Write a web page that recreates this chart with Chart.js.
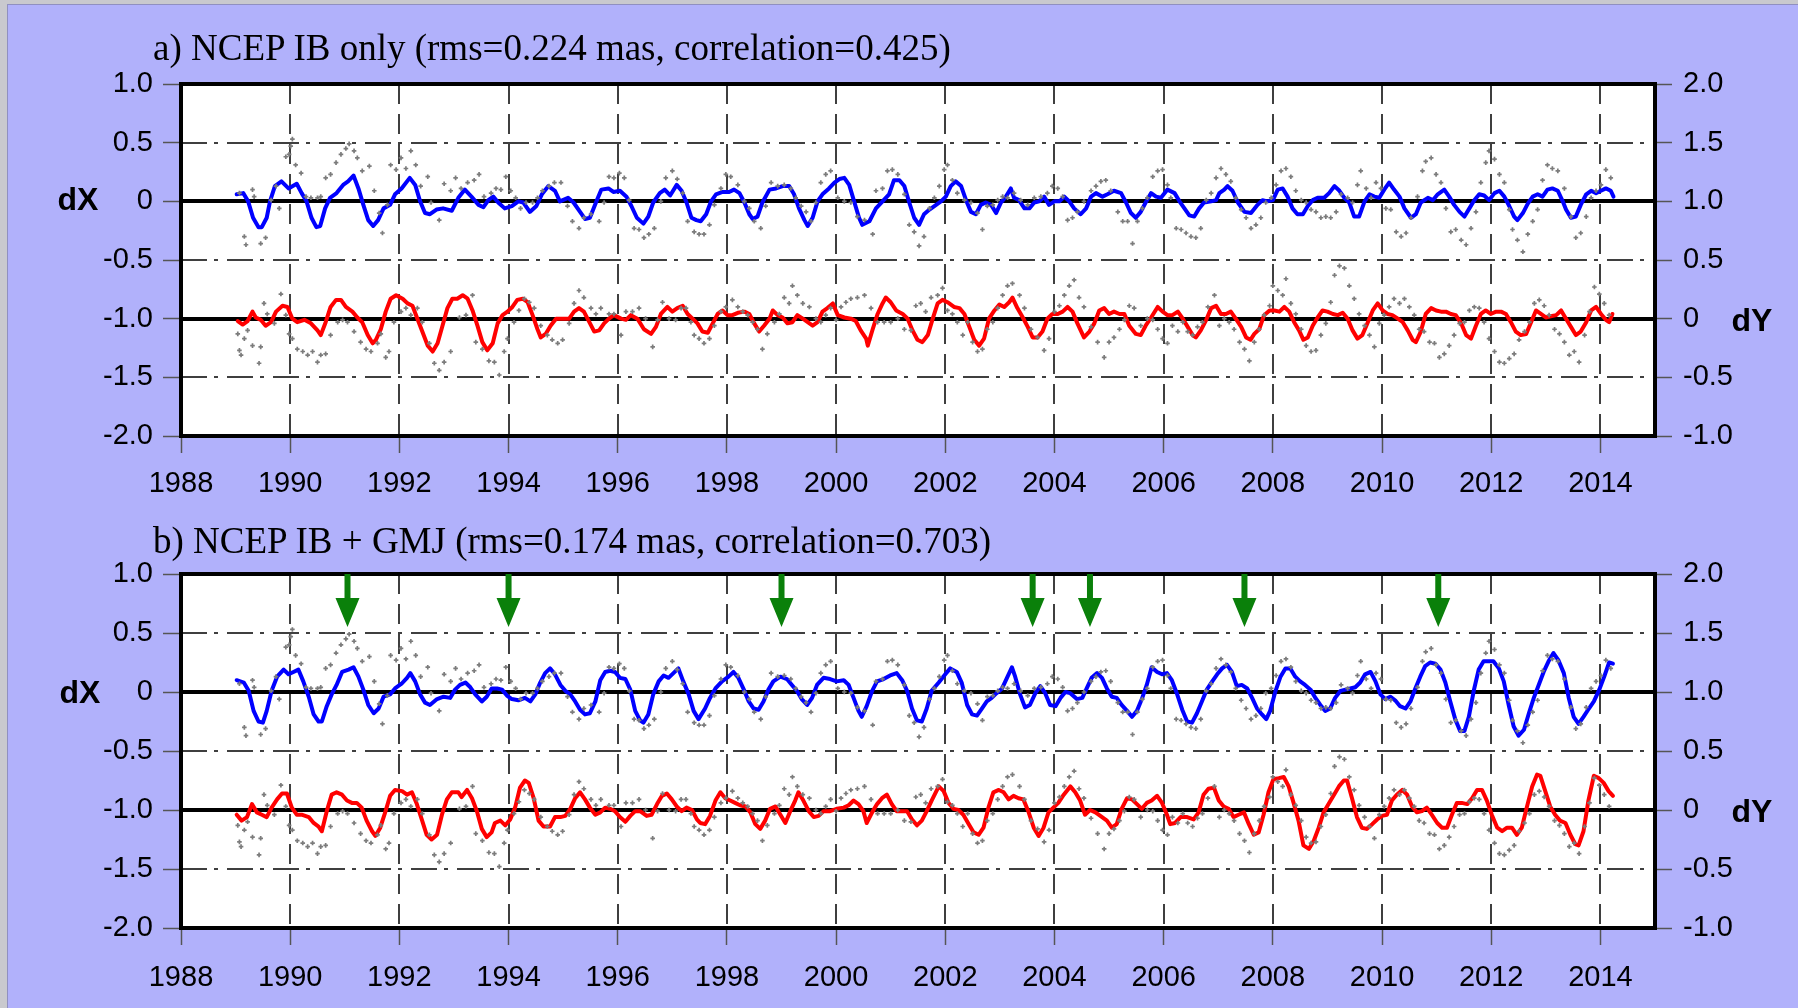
<!DOCTYPE html>
<html>
<head>
<meta charset="utf-8">
<title>NCEP IB dX / dY</title>
<script src="https://cdn.jsdelivr.net/npm/chart.js@4.4.1/dist/chart.umd.min.js"></script>
<style>
  html, body { margin: 0; padding: 0; }
  body { width: 1798px; height: 1008px; background: #c9c9ce; position: relative; overflow: hidden; }
  #frame { position: absolute; left: 7px; top: 4px; right: 0; bottom: 0; background: #b1b1fb; border-left: 1px solid #9090c0; border-top: 1px solid #9090c0; }
  canvas { position: absolute; left: 0; }
  .title { position: absolute; left: 153px; font-family: "Liberation Serif", "Times New Roman", serif; font-size: 37px; line-height: 37px; white-space: nowrap; color: #000; }
  .axlab { position: absolute; font-family: "Liberation Sans", Arial, sans-serif; font-weight: bold; font-size: 32px; line-height: 1; transform: translate(-50%, -50%); color: #000; }
</style>
</head>
<body>
<div id="frame"></div>
<canvas id="chartA" width="1798" height="500" style="top:0;width:1798px;height:500px"></canvas>
<canvas id="chartB" width="1798" height="508" style="top:500px;width:1798px;height:508px"></canvas>
<div class="title" style="top:29px">a) NCEP IB only (rms=0.224 mas, correlation=0.425)</div>
<div class="title" style="top:522px">b) NCEP IB + GMJ (rms=0.174 mas, correlation=0.703)</div>
<div class="axlab" style="left:78px;top:199px">dX</div>
<div class="axlab" style="left:1752px;top:320px">dY</div>
<div class="axlab" style="left:80px;top:692px">dX</div>
<div class="axlab" style="left:1752px;top:811px">dY</div>
<script>
// axis ticks and reference lines
const xTicks = [1988, 1990, 1992, 1994, 1996, 1998, 2000, 2002, 2004, 2006, 2008, 2010, 2012, 2014];
const gridYears = [1990, 1992, 1994, 1996, 1998, 2000, 2002, 2004, 2006, 2008, 2010, 2012, 2014];
const dxTicks = [-2, -1.5, -1, -0.5, 0, 0.5, 1];
const dyTicks = [-1, -0.5, 0, 0.5, 1, 1.5, 2];
const dashDotLevels = [0.5, -0.5, -1.5];
const solidLevels = [0, -1];

// green arrows in panel b (years), drawn from dX=1.0 down to dX=0.55
const arrowYears = [1991.05, 1994.0, 1999.0, 2003.6, 2004.65, 2007.48, 2011.03];
const arrowFrom = 1.0;
const arrowTo = 0.55;

// panel a, model dX (blue) and dY (red)  [year, mas]
const aBlue = [[1989.02,0.06],[1989.14,0.07],[1989.23,0],[1989.32,-0.14],[1989.42,-0.22],[1989.48,-0.22],[1989.57,-0.14],[1989.63,0],[1989.72,0.13],[1989.84,0.17],[1989.97,0.11],[1990.12,0.15],[1990.21,0.07],[1990.30,0],[1990.39,-0.14],[1990.48,-0.22],[1990.55,-0.21],[1990.64,-0.06],[1990.73,0.03],[1990.85,0.07],[1990.97,0.14],[1991.06,0.17],[1991.16,0.22],[1991.25,0.11],[1991.34,-0.03],[1991.43,-0.16],[1991.52,-0.21],[1991.61,-0.16],[1991.71,-0.06],[1991.83,-0.03],[1991.92,0.06],[1992.04,0.11],[1992.19,0.2],[1992.29,0.14],[1992.38,0],[1992.47,-0.1],[1992.56,-0.11],[1992.68,-0.07],[1992.80,-0.06],[1992.96,-0.08],[1993.08,0.03],[1993.20,0.1],[1993.32,0.04],[1993.45,-0.03],[1993.54,-0.05],[1993.63,0.01],[1993.72,0.04],[1993.81,-0.01],[1993.93,-0.06],[1994.06,-0.04],[1994.18,0],[1994.27,-0.01],[1994.39,-0.09],[1994.51,-0.04],[1994.61,0.06],[1994.73,0.13],[1994.85,0.09],[1994.94,0],[1995.09,0.03],[1995.19,-0.01],[1995.31,-0.09],[1995.40,-0.15],[1995.49,-0.14],[1995.61,0],[1995.70,0.1],[1995.83,0.11],[1995.92,0.08],[1996.04,0.09],[1996.16,0.04],[1996.25,-0.04],[1996.35,-0.14],[1996.47,-0.19],[1996.56,-0.13],[1996.65,-0.01],[1996.77,0.07],[1996.86,0.1],[1996.96,0.05],[1997.08,0.14],[1997.17,0.09],[1997.26,-0.01],[1997.35,-0.14],[1997.44,-0.16],[1997.52,-0.17],[1997.62,-0.11],[1997.71,0],[1997.80,0.06],[1997.92,0.08],[1998.04,0.08],[1998.13,0.1],[1998.23,0.07],[1998.32,-0.01],[1998.41,-0.11],[1998.47,-0.15],[1998.56,-0.13],[1998.65,-0.01],[1998.78,0.1],[1998.90,0.11],[1999.02,0.13],[1999.14,0.13],[1999.23,0.06],[1999.32,-0.06],[1999.42,-0.16],[1999.48,-0.21],[1999.57,-0.14],[1999.66,0],[1999.75,0.06],[1999.87,0.11],[1999.97,0.16],[2000.06,0.19],[2000.15,0.2],[2000.24,0.14],[2000.33,0],[2000.42,-0.14],[2000.48,-0.2],[2000.61,-0.17],[2000.73,-0.06],[2000.85,0],[2000.97,0.06],[2001.06,0.18],[2001.16,0.18],[2001.25,0.13],[2001.34,-0.01],[2001.43,-0.14],[2001.52,-0.2],[2001.61,-0.11],[2001.71,-0.07],[2001.80,-0.04],[2001.92,0],[2002.01,0.04],[2002.10,0.13],[2002.19,0.17],[2002.29,0.13],[2002.38,0.01],[2002.47,-0.09],[2002.56,-0.11],[2002.65,-0.03],[2002.74,-0.01],[2002.84,-0.03],[2002.93,-0.1],[2003.02,-0.01],[2003.11,0.04],[2003.20,0.11],[2003.26,0.03],[2003.35,0.01],[2003.45,-0.06],[2003.54,-0.06],[2003.63,-0.01],[2003.72,0],[2003.81,0.04],[2003.90,-0.03],[2004.00,0],[2004.09,0],[2004.18,0.04],[2004.27,0],[2004.36,-0.06],[2004.48,-0.11],[2004.58,-0.06],[2004.67,0.04],[2004.76,0.07],[2004.88,0.04],[2004.97,0.06],[2005.09,0.09],[2005.22,0.07],[2005.31,-0.01],[2005.40,-0.1],[2005.49,-0.14],[2005.58,-0.09],[2005.67,-0.01],[2005.77,0.07],[2005.86,0.04],[2005.95,0.03],[2006.07,0.1],[2006.20,0.07],[2006.29,0],[2006.38,-0.06],[2006.47,-0.12],[2006.56,-0.13],[2006.65,-0.06],[2006.74,-0.01],[2006.87,0],[2006.96,0.01],[2007.02,0.07],[2007.11,0.1],[2007.17,0.13],[2007.26,0.09],[2007.36,-0.01],[2007.48,-0.09],[2007.60,-0.1],[2007.72,-0.03],[2007.81,0.01],[2007.90,0],[2008.00,0.01],[2008.09,0.1],[2008.18,0.11],[2008.27,0.04],[2008.36,-0.06],[2008.45,-0.11],[2008.55,-0.11],[2008.64,-0.04],[2008.73,0.01],[2008.82,0.03],[2008.94,0.03],[2009.03,0.07],[2009.13,0.13],[2009.22,0.09],[2009.31,0.03],[2009.40,-0.01],[2009.49,-0.13],[2009.58,-0.13],[2009.68,0],[2009.77,0.06],[2009.86,0.04],[2009.95,0.03],[2010.04,0.1],[2010.13,0.16],[2010.22,0.1],[2010.32,0.04],[2010.41,-0.06],[2010.53,-0.14],[2010.62,-0.11],[2010.71,-0.01],[2010.84,0.03],[2010.93,0.01],[2011.02,0.06],[2011.14,0.1],[2011.23,0.04],[2011.32,-0.03],[2011.42,-0.09],[2011.51,-0.13],[2011.60,-0.06],[2011.69,0.01],[2011.78,0.06],[2011.87,0.05],[2011.96,0.01],[2012.06,0.07],[2012.15,0.09],[2012.24,0.04],[2012.33,-0.04],[2012.42,-0.13],[2012.48,-0.16],[2012.58,-0.1],[2012.67,-0.02],[2012.76,0.04],[2012.85,0.06],[2012.94,0.04],[2013.03,0.1],[2013.12,0.11],[2013.22,0.09],[2013.31,0],[2013.37,-0.07],[2013.46,-0.14],[2013.55,-0.13],[2013.64,-0.03],[2013.74,0.06],[2013.83,0.09],[2013.92,0.07],[2014.01,0.09],[2014.10,0.11],[2014.19,0.09],[2014.24,0.04]];

const aRed = [[1989.04,-0.02],[1989.13,-0.05],[1989.22,-0.02],[1989.31,0.06],[1989.37,0.01],[1989.46,-0.01],[1989.55,-0.06],[1989.65,-0.03],[1989.74,0.06],[1989.86,0.11],[1989.95,0.1],[1990.04,0],[1990.13,-0.03],[1990.26,-0.01],[1990.38,-0.04],[1990.50,-0.1],[1990.56,-0.14],[1990.65,-0.03],[1990.74,0.1],[1990.84,0.16],[1990.93,0.16],[1991.02,0.1],[1991.14,0.06],[1991.23,0.01],[1991.32,-0.03],[1991.42,-0.14],[1991.51,-0.21],[1991.57,-0.18],[1991.66,-0.09],[1991.75,0.06],[1991.84,0.17],[1991.94,0.2],[1992.06,0.17],[1992.15,0.13],[1992.24,0.11],[1992.33,0],[1992.42,-0.11],[1992.52,-0.23],[1992.61,-0.28],[1992.70,-0.21],[1992.79,-0.06],[1992.88,0.09],[1992.97,0.17],[1993.06,0.17],[1993.16,0.2],[1993.25,0.17],[1993.34,0.07],[1993.43,-0.06],[1993.52,-0.2],[1993.61,-0.27],[1993.71,-0.21],[1993.80,-0.04],[1993.89,0.03],[1993.98,0.06],[1994.07,0.1],[1994.16,0.16],[1994.26,0.17],[1994.35,0.14],[1994.44,0.03],[1994.53,-0.09],[1994.59,-0.16],[1994.68,-0.13],[1994.77,-0.06],[1994.87,0],[1994.99,0],[1995.11,0],[1995.20,0.06],[1995.29,0.09],[1995.38,0.06],[1995.48,-0.03],[1995.57,-0.11],[1995.66,-0.1],[1995.75,-0.04],[1995.84,0],[1995.93,0.03],[1996.06,0],[1996.15,-0.01],[1996.24,0.03],[1996.36,0],[1996.48,-0.09],[1996.61,-0.13],[1996.70,-0.07],[1996.79,0.04],[1996.91,0.1],[1997.00,0.06],[1997.09,0.09],[1997.19,0.11],[1997.28,0.04],[1997.37,0],[1997.46,-0.04],[1997.55,-0.11],[1997.65,-0.12],[1997.74,-0.04],[1997.83,0.04],[1997.92,0.07],[1998.01,0.03],[1998.10,0.03],[1998.20,0.05],[1998.32,0.06],[1998.41,0.04],[1998.50,-0.04],[1998.59,-0.11],[1998.68,-0.06],[1998.78,0],[1998.84,0.07],[1998.93,0.03],[1999.02,0.01],[1999.11,-0.04],[1999.20,-0.03],[1999.29,0.03],[1999.39,0],[1999.48,-0.03],[1999.57,-0.06],[1999.66,-0.03],[1999.75,0.06],[1999.84,0.09],[1999.94,0.13],[2000.03,0.03],[2000.15,0.01],[2000.27,0],[2000.36,-0.02],[2000.45,-0.1],[2000.55,-0.17],[2000.58,-0.23],[2000.67,-0.09],[2000.76,0.04],[2000.85,0.13],[2000.91,0.18],[2001.00,0.14],[2001.10,0.07],[2001.22,0.04],[2001.31,0],[2001.40,-0.1],[2001.49,-0.18],[2001.58,-0.2],[2001.68,-0.14],[2001.77,0],[2001.86,0.13],[2001.95,0.16],[2002.04,0.14],[2002.16,0.1],[2002.26,0.09],[2002.35,0.04],[2002.44,-0.07],[2002.53,-0.18],[2002.62,-0.23],[2002.71,-0.17],[2002.80,0],[2002.90,0.07],[2002.99,0.12],[2003.08,0.1],[2003.17,0.14],[2003.23,0.18],[2003.32,0.09],[2003.42,0.01],[2003.51,-0.07],[2003.60,-0.16],[2003.69,-0.16],[2003.78,-0.11],[2003.87,0],[2003.96,0.04],[2004.06,0.04],[2004.15,0.06],[2004.24,0.1],[2004.33,0.06],[2004.42,-0.04],[2004.54,-0.16],[2004.64,-0.11],[2004.73,-0.04],[2004.82,0.07],[2004.91,0.09],[2005.00,0.04],[2005.09,0.06],[2005.19,0.04],[2005.28,0.04],[2005.37,-0.06],[2005.49,-0.13],[2005.58,-0.14],[2005.67,-0.06],[2005.77,0.01],[2005.89,0.1],[2005.98,0.06],[2006.07,0.03],[2006.16,0.03],[2006.26,0.06],[2006.35,0],[2006.44,-0.07],[2006.53,-0.14],[2006.59,-0.16],[2006.68,-0.1],[2006.78,-0.01],[2006.87,0.09],[2006.96,0.11],[2007.05,0.04],[2007.14,0.04],[2007.23,0.06],[2007.32,0],[2007.42,-0.07],[2007.51,-0.16],[2007.59,-0.18],[2007.66,-0.13],[2007.75,-0.09],[2007.84,0.03],[2007.94,0.07],[2008.03,0.07],[2008.12,0.06],[2008.21,0.1],[2008.30,0.06],[2008.39,-0.03],[2008.48,-0.1],[2008.56,-0.18],[2008.64,-0.16],[2008.73,-0.06],[2008.82,0.01],[2008.91,0.07],[2009.00,0.06],[2009.10,0.04],[2009.19,0.03],[2009.28,0.05],[2009.37,0],[2009.46,-0.1],[2009.55,-0.17],[2009.64,-0.14],[2009.74,-0.03],[2009.83,0.07],[2009.92,0.13],[2010.01,0.07],[2010.10,0.04],[2010.19,0.03],[2010.29,0],[2010.38,-0.03],[2010.47,-0.1],[2010.56,-0.18],[2010.62,-0.2],[2010.71,-0.11],[2010.80,0.04],[2010.90,0.09],[2010.99,0.07],[2011.08,0.06],[2011.17,0.06],[2011.26,0.04],[2011.35,0.03],[2011.45,-0.04],[2011.54,-0.14],[2011.63,-0.17],[2011.72,-0.06],[2011.81,0.04],[2011.90,0.07],[2011.99,0.04],[2012.09,0.06],[2012.18,0.06],[2012.27,0.04],[2012.36,-0.03],[2012.45,-0.11],[2012.54,-0.14],[2012.64,-0.13],[2012.73,-0.03],[2012.82,0.07],[2012.91,0.04],[2013.00,0.01],[2013.09,0.02],[2013.19,0.03],[2013.28,0.07],[2013.37,0],[2013.46,-0.07],[2013.55,-0.14],[2013.64,-0.11],[2013.74,-0.03],[2013.83,0.07],[2013.92,0.1],[2014.01,0.04],[2014.10,-0.01],[2014.16,-0.03],[2014.22,0.04]];

// panel b, model with GMJ
const bBlue = [[1989.02,0.10],[1989.15,0.08],[1989.24,0.01],[1989.33,-0.16],[1989.42,-0.25],[1989.50,-0.26],[1989.57,-0.16],[1989.66,0.01],[1989.76,0.13],[1989.88,0.19],[1989.97,0.15],[1990.06,0.17],[1990.15,0.19],[1990.24,0.09],[1990.34,-0.04],[1990.43,-0.19],[1990.52,-0.25],[1990.58,-0.25],[1990.67,-0.12],[1990.76,-0.02],[1990.85,0.06],[1990.95,0.17],[1991.07,0.19],[1991.16,0.21],[1991.25,0.13],[1991.34,0.02],[1991.43,-0.11],[1991.53,-0.18],[1991.62,-0.14],[1991.71,-0.04],[1991.83,-0.02],[1991.92,0.03],[1992.04,0.07],[1992.14,0.12],[1992.20,0.16],[1992.29,0.09],[1992.38,-0.02],[1992.47,-0.09],[1992.56,-0.11],[1992.69,-0.06],[1992.81,-0.04],[1992.93,-0.05],[1993.02,0.02],[1993.11,0.06],[1993.21,0.08],[1993.30,0.04],[1993.39,-0.02],[1993.51,-0.08],[1993.60,-0.04],[1993.69,0.03],[1993.79,0.03],[1993.88,0.02],[1993.97,-0.03],[1994.06,-0.06],[1994.18,-0.07],[1994.30,-0.05],[1994.40,-0.08],[1994.49,-0.02],[1994.58,0.08],[1994.67,0.16],[1994.76,0.2],[1994.85,0.15],[1994.95,0.06],[1995.04,0.01],[1995.13,-0.02],[1995.22,-0.08],[1995.31,-0.15],[1995.40,-0.19],[1995.49,-0.18],[1995.59,-0.08],[1995.68,0.1],[1995.77,0.17],[1995.86,0.18],[1995.95,0.17],[1996.04,0.12],[1996.14,0.11],[1996.23,0.02],[1996.32,-0.16],[1996.41,-0.24],[1996.47,-0.26],[1996.56,-0.19],[1996.65,-0.02],[1996.75,0.09],[1996.84,0.14],[1996.93,0.12],[1997.02,0.16],[1997.11,0.2],[1997.20,0.09],[1997.30,-0.02],[1997.39,-0.16],[1997.48,-0.23],[1997.60,-0.14],[1997.69,-0.05],[1997.79,0.03],[1997.91,0.09],[1998.03,0.13],[1998.12,0.17],[1998.21,0.12],[1998.31,0.02],[1998.40,-0.08],[1998.49,-0.14],[1998.58,-0.15],[1998.67,-0.08],[1998.76,0.02],[1998.85,0.09],[1998.98,0.13],[1999.10,0.11],[1999.19,0.06],[1999.28,0.01],[1999.37,-0.06],[1999.47,-0.11],[1999.56,-0.05],[1999.65,0.06],[1999.77,0.12],[1999.89,0.11],[2000.01,0.09],[2000.14,0.10],[2000.23,0.06],[2000.32,-0.05],[2000.41,-0.16],[2000.47,-0.21],[2000.56,-0.12],[2000.66,0.01],[2000.75,0.09],[2000.87,0.11],[2000.99,0.14],[2001.11,0.16],[2001.21,0.10],[2001.30,0.01],[2001.39,-0.14],[2001.48,-0.24],[2001.57,-0.25],[2001.66,-0.14],[2001.75,0.01],[2001.88,0.08],[2002.00,0.15],[2002.09,0.2],[2002.21,0.17],[2002.30,0.08],[2002.40,-0.11],[2002.49,-0.19],[2002.58,-0.2],[2002.67,-0.14],[2002.76,-0.08],[2002.85,-0.05],[2002.94,-0.01],[2003.04,0.03],[2003.13,0.12],[2003.22,0.21],[2003.28,0.13],[2003.37,-0.02],[2003.46,-0.13],[2003.55,-0.11],[2003.65,-0.01],[2003.74,0.05],[2003.83,-0.01],[2003.92,-0.11],[2004.02,-0.12],[2004.11,-0.05],[2004.20,0],[2004.29,-0.01],[2004.41,-0.06],[2004.51,-0.05],[2004.59,0.03],[2004.68,0.12],[2004.78,0.16],[2004.87,0.12],[2004.96,0.03],[2005.05,-0.04],[2005.14,-0.05],[2005.23,-0.11],[2005.33,-0.16],[2005.42,-0.21],[2005.51,-0.16],[2005.60,-0.06],[2005.69,0.06],[2005.78,0.21],[2005.88,0.17],[2005.97,0.15],[2006.06,0.16],[2006.15,0.10],[2006.24,-0.01],[2006.34,-0.15],[2006.43,-0.25],[2006.52,-0.26],[2006.61,-0.18],[2006.70,-0.08],[2006.79,0.02],[2006.89,0.09],[2006.98,0.15],[2007.07,0.20],[2007.16,0.23],[2007.25,0.17],[2007.34,0.05],[2007.43,0.06],[2007.53,0.03],[2007.62,-0.05],[2007.71,-0.14],[2007.80,-0.19],[2007.88,-0.23],[2007.95,-0.16],[2008.05,0.01],[2008.14,0.13],[2008.23,0.20],[2008.32,0.20],[2008.41,0.13],[2008.50,0.09],[2008.59,0.06],[2008.69,0.02],[2008.78,-0.05],[2008.87,-0.11],[2008.96,-0.16],[2009.05,-0.14],[2009.14,-0.05],[2009.24,0.01],[2009.33,0.02],[2009.42,0.03],[2009.51,0.04],[2009.60,0.08],[2009.69,0.15],[2009.79,0.17],[2009.88,0.09],[2009.97,-0.02],[2010.06,-0.06],[2010.15,-0.04],[2010.24,-0.07],[2010.33,-0.12],[2010.43,-0.14],[2010.52,-0.08],[2010.61,0.03],[2010.70,0.13],[2010.79,0.22],[2010.88,0.25],[2010.98,0.24],[2011.07,0.19],[2011.16,0.08],[2011.25,-0.08],[2011.34,-0.23],[2011.43,-0.33],[2011.51,-0.33],[2011.59,-0.21],[2011.68,0.01],[2011.77,0.19],[2011.86,0.26],[2011.95,0.26],[2012.04,0.26],[2012.14,0.2],[2012.23,0.09],[2012.32,-0.11],[2012.41,-0.29],[2012.50,-0.37],[2012.60,-0.32],[2012.69,-0.18],[2012.78,-0.05],[2012.87,0.06],[2012.96,0.17],[2013.05,0.26],[2013.14,0.33],[2013.23,0.27],[2013.33,0.16],[2013.42,-0.05],[2013.51,-0.21],[2013.60,-0.27],[2013.69,-0.21],[2013.79,-0.14],[2013.88,-0.08],[2013.98,0.02],[2014.07,0.13],[2014.16,0.25],[2014.23,0.24]];

const bRed = [[1989.02,-0.04],[1989.11,-0.09],[1989.21,-0.06],[1989.30,0.05],[1989.39,-0.02],[1989.48,-0.04],[1989.57,-0.06],[1989.66,0.02],[1989.76,0.09],[1989.85,0.14],[1989.94,0.14],[1990.03,0.02],[1990.12,-0.04],[1990.21,-0.04],[1990.34,-0.06],[1990.43,-0.11],[1990.52,-0.14],[1990.58,-0.18],[1990.67,-0.01],[1990.76,0.13],[1990.85,0.15],[1990.95,0.13],[1991.04,0.08],[1991.13,0.06],[1991.22,0.06],[1991.31,0.02],[1991.40,-0.09],[1991.50,-0.18],[1991.56,-0.22],[1991.65,-0.15],[1991.74,-0.02],[1991.83,0.12],[1991.92,0.17],[1992.05,0.16],[1992.14,0.13],[1992.23,0.15],[1992.32,0.05],[1992.41,-0.08],[1992.50,-0.21],[1992.59,-0.25],[1992.69,-0.21],[1992.78,-0.04],[1992.87,0.09],[1992.96,0.15],[1993.08,0.15],[1993.14,0.11],[1993.24,0.17],[1993.33,0.10],[1993.42,-0.01],[1993.51,-0.16],[1993.60,-0.23],[1993.69,-0.19],[1993.75,-0.11],[1993.85,-0.09],[1993.94,-0.13],[1994.03,-0.08],[1994.12,0.02],[1994.21,0.19],[1994.30,0.25],[1994.37,0.23],[1994.46,0.10],[1994.55,-0.09],[1994.64,-0.14],[1994.76,-0.14],[1994.85,-0.06],[1994.95,-0.06],[1995.04,-0.05],[1995.13,0.01],[1995.22,0.10],[1995.31,0.15],[1995.40,0.09],[1995.49,0.02],[1995.59,-0.04],[1995.68,-0.02],[1995.77,0.02],[1995.86,0.01],[1995.95,-0.01],[1996.04,-0.06],[1996.14,-0.10],[1996.23,-0.05],[1996.32,-0.01],[1996.41,-0.01],[1996.53,-0.05],[1996.62,-0.04],[1996.72,0.05],[1996.81,0.12],[1996.90,0.14],[1996.99,0.09],[1997.08,0.03],[1997.17,-0.01],[1997.26,0.02],[1997.36,0],[1997.45,-0.08],[1997.51,-0.11],[1997.60,-0.12],[1997.69,-0.05],[1997.79,0.08],[1997.88,0.15],[1997.97,0.10],[1998.06,0.08],[1998.15,0.06],[1998.24,0.04],[1998.34,0.03],[1998.43,-0.02],[1998.52,-0.12],[1998.61,-0.16],[1998.70,-0.09],[1998.79,0.01],[1998.89,0.03],[1998.98,-0.04],[1999.07,-0.11],[1999.16,-0.01],[1999.25,0.08],[1999.31,0.15],[1999.40,0.08],[1999.50,-0.01],[1999.59,-0.06],[1999.68,-0.05],[1999.77,-0.01],[1999.89,-0.01],[2000.01,0.01],[2000.14,0.02],[2000.23,0.04],[2000.32,0.08],[2000.41,0.05],[2000.50,-0.01],[2000.56,-0.11],[2000.66,-0.02],[2000.75,0.05],[2000.84,0.10],[2000.93,0.13],[2001.02,0.05],[2001.11,-0.01],[2001.21,-0.01],[2001.30,-0.01],[2001.39,-0.08],[2001.48,-0.13],[2001.57,-0.09],[2001.66,-0.01],[2001.75,0.08],[2001.88,0.20],[2001.97,0.16],[2002.06,0.06],[2002.15,0.01],[2002.24,0],[2002.33,-0.04],[2002.43,-0.12],[2002.52,-0.19],[2002.61,-0.21],[2002.70,-0.15],[2002.79,0.02],[2002.88,0.15],[2002.98,0.17],[2003.07,0.15],[2003.16,0.09],[2003.25,0.12],[2003.34,0.10],[2003.43,0.09],[2003.52,-0.01],[2003.62,-0.15],[2003.71,-0.22],[2003.80,-0.15],[2003.89,-0.02],[2003.98,0.02],[2004.07,0.06],[2004.17,0.13],[2004.29,0.20],[2004.38,0.15],[2004.47,0.08],[2004.56,-0.04],[2004.65,0],[2004.75,-0.02],[2004.84,-0.05],[2004.96,-0.09],[2005.05,-0.15],[2005.14,-0.12],[2005.23,0.01],[2005.33,0.10],[2005.42,0.09],[2005.51,0.05],[2005.60,0.01],[2005.69,0.06],[2005.78,0.08],[2005.88,0.12],[2005.97,0.06],[2006.06,-0.04],[2006.12,-0.12],[2006.21,-0.11],[2006.31,-0.06],[2006.43,-0.06],[2006.55,-0.08],[2006.64,-0.02],[2006.73,0.13],[2006.82,0.18],[2006.92,0.19],[2007.01,0.08],[2007.10,0.03],[2007.19,0.01],[2007.28,-0.06],[2007.37,-0.04],[2007.47,-0.02],[2007.56,-0.12],[2007.65,-0.21],[2007.74,-0.19],[2007.83,-0.04],[2007.92,0.15],[2008.01,0.26],[2008.11,0.27],[2008.20,0.28],[2008.29,0.20],[2008.38,0.06],[2008.47,-0.09],[2008.56,-0.30],[2008.66,-0.33],[2008.75,-0.26],[2008.84,-0.15],[2008.93,-0.02],[2009.02,0.05],[2009.11,0.12],[2009.21,0.20],[2009.30,0.25],[2009.36,0.25],[2009.45,0.10],[2009.54,-0.06],[2009.63,-0.15],[2009.72,-0.16],[2009.82,-0.12],[2009.91,-0.08],[2010.00,-0.05],[2010.09,-0.04],[2010.18,0.08],[2010.27,0.13],[2010.37,0.17],[2010.46,0.13],[2010.55,0.03],[2010.64,-0.02],[2010.73,-0.01],[2010.82,0.02],[2010.91,-0.04],[2011.01,-0.11],[2011.10,-0.15],[2011.19,-0.15],[2011.28,-0.04],[2011.37,0.06],[2011.46,0.06],[2011.56,0.05],[2011.65,0.10],[2011.74,0.17],[2011.83,0.17],[2011.92,0.08],[2012.01,-0.04],[2012.11,-0.15],[2012.20,-0.18],[2012.29,-0.15],[2012.38,-0.15],[2012.47,-0.21],[2012.56,-0.15],[2012.65,0.02],[2012.75,0.20],[2012.84,0.30],[2012.90,0.29],[2012.99,0.16],[2013.08,0.03],[2013.17,-0.04],[2013.26,-0.09],[2013.36,-0.11],[2013.45,-0.21],[2013.54,-0.29],[2013.60,-0.30],[2013.69,-0.18],[2013.78,0.08],[2013.88,0.29],[2013.97,0.27],[2014.06,0.23],[2014.15,0.16],[2014.23,0.12]];

// observed values (grey dots), same in both panels
const obsDX = [[1989.07,0.07],[1989.16,-0.30],[1989.19,-0.37],[1989.31,0.10],[1989.34,0.04],[1989.46,-0.36],[1989.55,-0.31],[1989.65,0.01],[1989.74,0.13],[1989.80,-0.06],[1989.92,0.38],[1989.98,0.40],[1990.01,0.47],[1990.04,0.53],[1990.10,0.31],[1990.20,0.24],[1990.29,0.04],[1990.38,0.03],[1990.50,0.03],[1990.56,0.04],[1990.65,0.20],[1990.74,0.23],[1990.84,0.33],[1990.93,0.40],[1991.02,0.45],[1991.08,0.49],[1991.17,0.43],[1991.23,0.37],[1991.32,0.26],[1991.45,0.30],[1991.54,0.09],[1991.63,-0.10],[1991.69,-0.27],[1991.78,-0.03],[1991.84,0.31],[1991.94,0.27],[1992.03,0.37],[1992.12,0.28],[1992.21,0.43],[1992.30,0.31],[1992.39,0.13],[1992.52,0.21],[1992.58,-0.01],[1992.73,-0.16],[1992.82,0.15],[1992.94,0.09],[1993.03,0.20],[1993.13,0.11],[1993.25,0.16],[1993.37,0.18],[1993.46,0.23],[1993.55,0.04],[1993.68,0.07],[1993.77,0.11],[1993.86,0.10],[1993.95,0.21],[1994.04,0.09],[1994.13,0.03],[1994.22,-0.06],[1994.32,-0.01],[1994.44,-0.01],[1994.53,0.03],[1994.62,0.09],[1994.74,0.13],[1994.84,0.16],[1994.96,0.16],[1995.08,-0.04],[1995.17,-0.17],[1995.29,-0.23],[1995.38,-0.14],[1995.51,-0.11],[1995.66,-0.17],[1995.75,-0.01],[1995.84,0.21],[1995.93,0.20],[1996.03,0.24],[1996.12,0.20],[1996.21,0.01],[1996.30,-0.23],[1996.39,-0.24],[1996.48,-0.31],[1996.57,-0.28],[1996.67,-0.23],[1996.79,0],[1996.88,0.20],[1997.00,0.26],[1997.09,0.19],[1997.19,0.07],[1997.28,-0.17],[1997.40,-0.26],[1997.49,-0.28],[1997.58,-0.28],[1997.68,-0.20],[1997.77,-0.03],[1997.89,0.11],[1997.98,0.23],[1998.07,0.21],[1998.20,0.14],[1998.32,0],[1998.41,-0.06],[1998.50,-0.17],[1998.62,-0.23],[1998.71,-0.04],[1998.81,0.16],[1998.93,0.13],[1999.05,0.14],[1999.17,0.11],[1999.26,0.03],[1999.36,-0.04],[1999.45,-0.09],[1999.54,-0.17],[1999.63,-0.01],[1999.72,0.16],[1999.81,0.23],[1999.90,0.26],[2000.03,0.03],[2000.15,0],[2000.27,-0.01],[2000.39,-0.13],[2000.52,-0.16],[2000.67,-0.28],[2000.73,0.09],[2000.85,0.11],[2000.94,0.26],[2001.03,0.27],[2001.13,0.23],[2001.25,0.06],[2001.34,-0.20],[2001.43,-0.26],[2001.52,-0.38],[2001.61,-0.30],[2001.71,-0.06],[2001.80,0.03],[2001.89,0.13],[2001.98,0.27],[2002.04,0.31],[2002.13,0.18],[2002.22,0.07],[2002.35,0.01],[2002.47,-0.01],[2002.59,-0.10],[2002.68,-0.24],[2002.77,-0.04],[2002.87,-0.03],[2002.96,0.01],[2003.05,0.04],[2003.14,0.03],[2003.26,0.07],[2003.38,0.01],[2003.51,-0.03],[2003.63,0.03],[2003.75,0.04],[2003.87,0.07],[2003.96,0.13],[2004.06,0.11],[2004.15,0.04],[2004.24,-0.16],[2004.33,-0.14],[2004.42,-0.09],[2004.54,0],[2004.67,0.09],[2004.76,0.13],[2004.85,0.17],[2004.94,0.18],[2005.03,0.09],[2005.16,-0.09],[2005.25,-0.17],[2005.34,-0.17],[2005.43,-0.36],[2005.52,-0.17],[2005.61,-0.06],[2005.70,0.03],[2005.80,0.21],[2005.89,0.26],[2005.98,0.27],[2006.07,0.14],[2006.13,0.03],[2006.23,-0.23],[2006.32,-0.24],[2006.41,-0.27],[2006.50,-0.30],[2006.59,-0.31],[2006.68,-0.23],[2006.78,0.01],[2006.87,0.07],[2006.96,0.20],[2007.05,0.28],[2007.14,0.23],[2007.23,0.17],[2007.32,0.03],[2007.42,-0.07],[2007.51,-0.14],[2007.60,-0.23],[2007.69,-0.20],[2007.78,-0.14],[2007.87,-0.01],[2007.97,0.03],[2008.06,0.14],[2008.15,0.26],[2008.24,0.28],[2008.33,0.21],[2008.42,0.09],[2008.52,0.01],[2008.61,-0.01],[2008.70,-0.07],[2008.79,-0.09],[2008.88,-0.14],[2008.97,-0.13],[2009.06,-0.14],[2009.16,-0.09],[2009.25,0.06],[2009.37,0.03],[2009.46,-0.01],[2009.55,0.14],[2009.61,0.26],[2009.71,0.11],[2009.80,0.03],[2009.89,0.16],[2009.98,0.11],[2010.07,-0.06],[2010.16,-0.07],[2010.26,-0.26],[2010.35,-0.30],[2010.44,-0.27],[2010.53,-0.14],[2010.65,0.04],[2010.74,0.26],[2010.80,0.34],[2010.90,0.37],[2010.99,0.23],[2011.08,0.16],[2011.17,-0.06],[2011.26,-0.26],[2011.35,-0.24],[2011.45,-0.33],[2011.54,-0.37],[2011.63,-0.23],[2011.72,-0.09],[2011.81,0.16],[2011.90,0.33],[2011.96,0.43],[2012.06,0.36],[2012.15,0.23],[2012.24,0.16],[2012.33,-0.07],[2012.39,-0.24],[2012.48,-0.33],[2012.58,-0.43],[2012.67,-0.28],[2012.76,-0.17],[2012.85,-0.07],[2012.94,0.18],[2013.03,0.31],[2013.12,0.28],[2013.22,0.26],[2013.34,0.11],[2013.46,-0.13],[2013.55,-0.31],[2013.64,-0.27],[2013.74,-0.13],[2013.83,0.03],[2013.92,0.09],[2014.01,0.14],[2014.10,0.27],[2014.19,0.20]];

const obsDY = [[1989.04,-0.13],[1989.07,-0.27],[1989.10,-0.31],[1989.16,-0.17],[1989.22,-0.10],[1989.31,-0.23],[1989.43,-0.38],[1989.46,-0.24],[1989.52,0.13],[1989.58,0.04],[1989.71,-0.04],[1989.83,0.21],[1989.92,0.03],[1989.98,-0.13],[1990.04,-0.17],[1990.13,-0.26],[1990.23,-0.28],[1990.32,-0.31],[1990.41,-0.28],[1990.50,-0.37],[1990.56,-0.31],[1990.65,-0.30],[1990.74,-0.14],[1990.87,-0.03],[1990.96,-0.01],[1991.05,-0.03],[1991.17,-0.11],[1991.29,-0.20],[1991.39,-0.26],[1991.48,-0.28],[1991.60,-0.21],[1991.66,-0.13],[1991.75,-0.33],[1991.81,-0.28],[1991.90,-0.03],[1992.03,0.06],[1992.12,0.09],[1992.21,0.03],[1992.33,0.09],[1992.42,-0.03],[1992.55,-0.21],[1992.64,-0.38],[1992.73,-0.44],[1992.82,-0.37],[1992.94,-0.28],[1993.10,0.01],[1993.22,0.03],[1993.34,0.20],[1993.40,-0.20],[1993.52,-0.26],[1993.64,-0.36],[1993.74,-0.37],[1993.83,-0.48],[1993.92,-0.28],[1993.98,-0.17],[1994.10,-0.03],[1994.19,0.07],[1994.29,0.17],[1994.38,0.14],[1994.47,0.09],[1994.59,-0.06],[1994.71,-0.14],[1994.80,-0.18],[1994.90,-0.21],[1994.99,-0.18],[1995.11,-0.04],[1995.20,0.13],[1995.29,0.24],[1995.38,0.18],[1995.51,0.09],[1995.60,0.04],[1995.69,0.09],[1995.84,0.04],[1995.93,0.04],[1996.06,-0.14],[1996.15,0.06],[1996.27,0.06],[1996.39,0.09],[1996.51,0],[1996.64,-0.24],[1996.73,-0.01],[1996.82,0.14],[1996.94,0],[1997.06,-0.01],[1997.16,0.09],[1997.25,0.09],[1997.34,-0.03],[1997.40,-0.14],[1997.49,-0.17],[1997.58,-0.21],[1997.68,-0.17],[1997.77,-0.06],[1997.89,0.06],[1997.98,0.10],[1998.10,0.16],[1998.20,0.10],[1998.29,0.06],[1998.38,0.03],[1998.47,-0.03],[1998.56,-0.09],[1998.65,-0.26],[1998.74,-0.13],[1998.87,-0.03],[1998.96,0.04],[1999.05,0.18],[1999.14,0.13],[1999.20,0.28],[1999.29,0.20],[1999.39,0.13],[1999.51,0.10],[1999.63,0],[1999.72,-0.03],[1999.81,0.03],[1999.90,0.09],[2000.00,-0.01],[2000.09,0.10],[2000.18,0.14],[2000.27,0.17],[2000.39,0.18],[2000.52,0.20],[2000.64,0.09],[2000.76,-0.03],[2000.88,-0.03],[2001.00,-0.03],[2001.13,0],[2001.25,-0.09],[2001.37,-0.10],[2001.46,0.11],[2001.55,0.13],[2001.64,0.06],[2001.74,0.18],[2001.86,0.20],[2001.95,0.26],[2002.04,0.07],[2002.13,0.04],[2002.22,-0.03],[2002.32,-0.14],[2002.41,-0.03],[2002.50,-0.20],[2002.59,-0.28],[2002.68,-0.26],[2002.77,-0.09],[2002.87,-0.03],[2002.96,0.09],[2003.05,0.20],[2003.14,0.28],[2003.23,0.30],[2003.36,0.20],[2003.45,0.09],[2003.57,-0.09],[2003.69,-0.16],[2003.81,-0.27],[2003.90,-0.17],[2004.00,0.06],[2004.09,0.11],[2004.18,0.20],[2004.27,0.28],[2004.36,0.33],[2004.45,0.18],[2004.54,0.10],[2004.67,-0.07],[2004.79,-0.20],[2004.91,-0.33],[2005.00,-0.20],[2005.09,-0.16],[2005.19,-0.09],[2005.28,-0.01],[2005.37,0.11],[2005.46,0.09],[2005.58,-0.06],[2005.70,0],[2005.80,-0.01],[2005.89,-0.09],[2005.98,-0.17],[2006.07,-0.21],[2006.16,-0.06],[2006.26,-0.11],[2006.35,-0.03],[2006.44,-0.11],[2006.53,-0.14],[2006.62,-0.07],[2006.71,-0.03],[2006.81,0.10],[2006.93,0.20],[2007.02,-0.06],[2007.11,0],[2007.20,-0.03],[2007.29,-0.09],[2007.39,-0.20],[2007.48,-0.26],[2007.57,-0.36],[2007.66,-0.20],[2007.75,-0.09],[2007.84,0.03],[2007.94,0.11],[2008.00,0.28],[2008.09,0.24],[2008.18,0.20],[2008.24,0.34],[2008.33,0.13],[2008.42,0.04],[2008.52,-0.09],[2008.61,-0.23],[2008.70,-0.28],[2008.79,-0.27],[2008.88,-0.14],[2008.97,-0.04],[2009.06,0.14],[2009.13,0.37],[2009.22,0.45],[2009.31,0.43],[2009.40,0.28],[2009.49,0.17],[2009.58,0.04],[2009.68,-0.06],[2009.77,-0.14],[2009.86,-0.24],[2009.95,-0.04],[2010.04,0.03],[2010.13,0.10],[2010.22,0.17],[2010.32,0.13],[2010.41,0.17],[2010.50,0.10],[2010.59,0.03],[2010.68,-0.09],[2010.77,-0.11],[2010.87,-0.20],[2010.96,-0.21],[2011.05,-0.33],[2011.14,-0.30],[2011.23,-0.23],[2011.32,-0.14],[2011.42,-0.04],[2011.51,-0.03],[2011.60,0.07],[2011.69,0.10],[2011.78,0.09],[2011.87,-0.03],[2011.96,-0.17],[2012.06,-0.28],[2012.15,-0.37],[2012.24,-0.38],[2012.33,-0.34],[2012.42,-0.30],[2012.51,-0.18],[2012.61,-0.11],[2012.70,-0.03],[2012.79,0.13],[2012.88,0.16],[2012.97,0.11],[2013.06,0.03],[2013.16,-0.09],[2013.25,-0.13],[2013.34,-0.20],[2013.43,-0.31],[2013.52,-0.28],[2013.61,-0.37],[2013.71,-0.14],[2013.80,0.06],[2013.89,0.27],[2013.98,0.21],[2014.07,0.13],[2014.16,0.03]];

const tickFont = { family: '"Liberation Sans", Arial, sans-serif', size: 29 };
const fmt = v => (v === 0 ? '0' : v.toFixed(1));
const pts = arr => arr.map(p => ({ x: p[0], y: p[1] }));

// white plot area, grid lines, zero lines and frame
const panelDecor = {
    id: 'panelDecor',
    beforeDraw(chart) {
        const { ctx, chartArea: a } = chart;
        ctx.save();
        ctx.fillStyle = '#fff';
        ctx.fillRect(a.left, a.top, a.right - a.left, a.bottom - a.top);
        ctx.restore();
    },
    beforeDatasetsDraw(chart) {
        const { ctx, chartArea: a, scales } = chart;
        const x = scales.x, y = scales.y;
        ctx.save();
        ctx.strokeStyle = '#000';
        ctx.lineWidth = 1.5;
        ctx.setLineDash([20, 10]);
        gridYears.forEach(yr => {
            const px = Math.round(x.getPixelForValue(yr));
            ctx.beginPath(); ctx.moveTo(px, a.top); ctx.lineTo(px, a.bottom); ctx.stroke();
        });
        ctx.setLineDash([26, 7, 4, 9]);
        dashDotLevels.forEach(v => {
            const py = Math.round(y.getPixelForValue(v));
            ctx.beginPath(); ctx.moveTo(a.left, py); ctx.lineTo(a.right, py); ctx.stroke();
        });
        ctx.setLineDash([]);
        ctx.lineWidth = 4;
        solidLevels.forEach(v => {
            const py = Math.round(y.getPixelForValue(v));
            ctx.beginPath(); ctx.moveTo(a.left, py); ctx.lineTo(a.right, py); ctx.stroke();
        });
        ctx.restore();
    },
    afterDatasetsDraw(chart) {
        const { ctx, chartArea: a } = chart;
        ctx.save();
        ctx.strokeStyle = '#000';
        ctx.lineWidth = 4;
        ctx.strokeRect(a.left, a.top, a.right - a.left, a.bottom - a.top);
        ctx.restore();
    }
};

const arrowPlugin = {
    id: 'arrows',
    afterDatasetsDraw(chart) {
        const { ctx, scales } = chart;
        const x = scales.x, y = scales.y;
        ctx.save();
        ctx.fillStyle = '#0a800a';
        arrowYears.forEach(yr => {
            const px = x.getPixelForValue(yr);
            const top = y.getPixelForValue(arrowFrom);
            const tip = y.getPixelForValue(arrowTo);
            const head = 29, half = 12, shaft = 3;
            ctx.beginPath();
            ctx.moveTo(px - shaft, top);
            ctx.lineTo(px + shaft, top);
            ctx.lineTo(px + shaft, tip - head);
            ctx.lineTo(px + half, tip - head);
            ctx.lineTo(px, tip);
            ctx.lineTo(px - half, tip - head);
            ctx.lineTo(px - shaft, tip - head);
            ctx.closePath();
            ctx.fill();
        });
        ctx.restore();
    }
};

function axisY(pos, min, max, ticks, width, tickLen, pad) {
    return {
        position: pos, min: min, max: max,
        afterBuildTicks: s => { s.ticks = ticks.map(v => ({ value: v })); },
        afterFit: s => { s.width = width; },
        grid: { drawOnChartArea: false, drawTicks: true, tickLength: tickLen, tickColor: '#555', tickWidth: 1.5 },
        border: { display: false },
        ticks: { color: '#000', font: tickFont, padding: pad, callback: v => fmt(v) }
    };
}

function makeChart(canvas, blue, red, topPad, xHeight, labelPad, extra) {
    return new Chart(canvas, {
        type: 'scatter',
        data: {
            datasets: [
                { data: pts(obsDX), yAxisID: 'y', pointStyle: 'cross', pointRadius: 2.3, borderWidth: 1.7, borderColor: '#7c7c7c', showLine: false },
                { data: pts(obsDY), yAxisID: 'y2', pointStyle: 'cross', pointRadius: 2.3, borderWidth: 1.7, borderColor: '#7c7c7c', showLine: false },
                { data: pts(blue), yAxisID: 'y', showLine: true, borderColor: '#0000ff', borderWidth: 4, pointRadius: 0, borderJoinStyle: 'round', borderCapStyle: 'round' },
                { data: pts(red), yAxisID: 'y2', showLine: true, borderColor: '#ff0000', borderWidth: 4, pointRadius: 0, borderJoinStyle: 'round', borderCapStyle: 'round' }
            ]
        },
        options: {
            responsive: false,
            animation: false,
            devicePixelRatio: 1,
            layout: { padding: { top: topPad, left: 0, right: 0, bottom: 0 } },
            plugins: { legend: { display: false }, tooltip: { enabled: false }, title: { display: false } },
            scales: {
                x: {
                    type: 'linear', position: 'bottom', min: 1988, max: 2015,
                    afterBuildTicks: s => { s.ticks = xTicks.map(v => ({ value: v })); },
                    afterFit: s => { s.height = xHeight; },
                    grid: { drawOnChartArea: false, drawTicks: true, tickLength: 17, tickColor: '#555', tickWidth: 1.5 },
                    border: { display: false },
                    ticks: { color: '#000', font: tickFont, padding: labelPad, maxRotation: 0, autoSkip: false, callback: v => String(v) }
                },
                y: axisY('left', -2, 1, dxTicks, 181, 18, 10),
                y2: axisY('right', -1, 2, dyTicks, 143, 17, 11)
            }
        },
        plugins: extra
    });
}

makeChart(document.getElementById('chartA'), aBlue, aRed, 84, 64, 14, [panelDecor]);
makeChart(document.getElementById('chartB'), bBlue, bRed, 74, 80, 16, [panelDecor, arrowPlugin]);
</script>
</body>
</html>
